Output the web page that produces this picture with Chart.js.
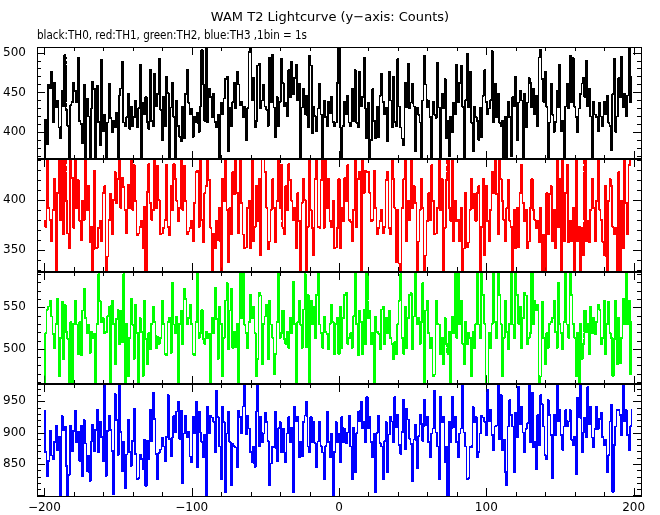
<!DOCTYPE html>
<html>
<head>
<meta charset="utf-8">
<title>WAM T2 Lightcurve</title>
<script src="https://cdn.jsdelivr.net/npm/chart.js@4"></script>
<style>
  body { margin: 0; background: #fff; }
  canvas { display: block; }
</style>
</head>
<body>
<canvas id="lc" width="660" height="515"></canvas>
<script>
// 1 s bins, t = -200 ... 199
const binStart = -200;

// counts per bin (approximate)
const th0 = [
  368, 416, 385, 460, 455, 476, 412, 462, 431, 440, 406, 392, 452, 432, 497, 428, 408, 359, 434, 438,
  462, 452, 437, 494, 414, 410, 386, 460, 368, 442, 420, 344, 430, 464, 454, 350, 458, 413, 383, 491,
  401, 422, 366, 412, 461, 418, 400, 414, 406, 424, 355, 446, 455, 488, 412, 408, 419, 448, 404, 432,
  408, 419, 440, 406, 430, 485, 353, 437, 422, 444, 413, 404, 478, 414, 407, 474, 432, 448, 492, 428,
  390, 444, 407, 470, 449, 348, 431, 462, 419, 358, 440, 408, 394, 389, 432, 392, 448, 479, 437, 422,
  430, 394, 420, 412, 424, 400, 432, 503, 460, 414, 506, 412, 454, 444, 419, 448, 413, 406, 422, 340,
  437, 422, 442, 467, 470, 376, 431, 408, 438, 462, 430, 476, 460, 434, 438, 419, 432, 390, 430, 501,
  539, 440, 468, 406, 414, 484, 486, 430, 440, 460, 432, 428, 408, 494, 437, 497, 431, 394, 444, 408,
  438, 492, 462, 432, 437, 420, 478, 444, 489, 448, 468, 485, 440, 461, 342, 431, 455, 422, 446, 406,
  496, 484, 398, 432, 420, 401, 430, 461, 422, 344, 440, 419, 407, 438, 424, 444, 413, 408, 412, 462,
  540, 406, 358, 408, 438, 422, 446, 412, 407, 455, 414, 478, 412, 406, 476, 432, 444, 494, 430, 392,
  437, 350, 390, 454, 414, 392, 432, 394, 446, 474, 438, 422, 431, 389, 476, 440, 406, 470, 413, 408,
  492, 432, 406, 392, 383, 462, 431, 486, 430, 437, 461, 432, 376, 431, 422, 412, 346, 440, 496, 460,
  431, 440, 419, 348, 438, 422, 418, 487, 431, 366, 448, 430, 467, 392, 414, 370, 420, 400, 437, 422,
  485, 437, 462, 484, 432, 341, 440, 499, 431, 476, 412, 376, 432, 419, 414, 390, 431, 394, 446, 478,
  438, 422, 430, 440, 502, 413, 461, 419, 448, 412, 407, 414, 366, 420, 338, 438, 419, 370, 444, 432,
  470, 390, 437, 452, 440, 368, 448, 406, 437, 468, 462, 431, 454, 422, 446, 407, 494, 504, 467, 438,
  476, 432, 368, 412, 461, 422, 400, 413, 452, 431, 485, 401, 414, 347, 432, 461, 430, 496, 438, 493,
  432, 419, 400, 430, 448, 461, 468, 444, 490, 432, 454, 420, 336, 438, 422, 419, 401, 437, 420, 407,
  438, 422, 446, 412, 408, 377, 448, 492, 400, 420, 468, 444, 495, 431, 448, 420, 446, 532, 437, 470
];
const th1 = [
  379, 373, 452, 392, 380, 358, 390, 421, 329, 407, 471, 380, 467, 365, 450, 399, 366, 351, 462, 422,
  372, 463, 392, 420, 379, 359, 399, 380, 443, 390, 414, 357, 373, 309, 429, 351, 352, 372, 379, 358,
  407, 414, 313, 343, 380, 406, 365, 400, 428, 397, 421, 452, 392, 422, 413, 390, 366, 415, 392, 443,
  390, 435, 399, 364, 366, 373, 379, 351, 393, 303, 408, 436, 397, 380, 390, 445, 392, 434, 400, 365,
  366, 372, 380, 435, 373, 364, 414, 390, 436, 421, 399, 379, 392, 443, 390, 434, 399, 365, 368, 372,
  379, 358, 397, 428, 429, 373, 445, 380, 357, 407, 414, 452, 420, 372, 306, 366, 351, 379, 359, 392,
  313, 421, 399, 470, 390, 337, 392, 365, 428, 406, 470, 407, 366, 452, 397, 365, 351, 352, 392, 399,
  351, 443, 358, 373, 414, 379, 421, 344, 452, 450, 428, 392, 350, 358, 390, 421, 392, 357, 399, 470,
  392, 435, 372, 365, 414, 390, 436, 420, 399, 380, 392, 351, 407, 379, 329, 397, 421, 400, 313, 373,
  470, 390, 372, 344, 421, 462, 373, 372, 420, 463, 372, 443, 392, 421, 379, 373, 399, 351, 352, 372,
  421, 351, 392, 379, 422, 399, 435, 380, 378, 358, 390, 445, 373, 421, 428, 302, 443, 407, 429, 428,
  428, 407, 379, 380, 429, 392, 365, 372, 379, 390, 366, 373, 420, 428, 372, 365, 452, 421, 392, 337,
  390, 336, 313, 392, 421, 443, 358, 399, 380, 445, 392, 414, 397, 322, 358, 390, 421, 392, 313, 344,
  379, 407, 380, 435, 399, 365, 366, 392, 470, 390, 421, 329, 372, 420, 452, 392, 379, 443, 358, 399,
  379, 380, 358, 392, 322, 351, 407, 352, 357, 390, 421, 392, 406, 379, 407, 414, 329, 373, 421, 344,
  414, 379, 358, 390, 428, 407, 470, 406, 365, 452, 421, 399, 380, 358, 392, 420, 379, 373, 313, 390,
  351, 392, 352, 407, 435, 397, 379, 390, 351, 358, 392, 421, 390, 380, 372, 379, 357, 392, 308, 365,
  329, 407, 365, 406, 414, 358, 390, 351, 443, 373, 421, 305, 445, 358, 407, 435, 357, 379, 358, 392,
  322, 443, 358, 373, 329, 372, 344, 452, 358, 379, 357, 390, 421, 392, 358, 399, 470, 390, 380, 358,
  344, 414, 329, 399, 421, 414, 373, 365, 372, 313, 428, 322, 399, 351, 470, 397, 365, 435, 456, 469
];
const th2 = [
  436, 519, 547, 551, 558, 539, 518, 501, 530, 560, 467, 513, 557, 488, 553, 520, 512, 448, 532, 445,
  530, 558, 529, 494, 532, 492, 546, 572, 537, 519, 529, 495, 520, 513, 518, 453, 530, 590, 557, 532,
  537, 519, 520, 539, 551, 438, 558, 530, 481, 536, 547, 506, 546, 508, 590, 448, 530, 467, 513, 560,
  529, 488, 553, 519, 442, 537, 520, 467, 558, 512, 481, 519, 499, 530, 551, 532, 501, 515, 506, 513,
  558, 530, 494, 492, 532, 537, 495, 579, 529, 519, 539, 438, 530, 546, 505, 572, 560, 529, 537, 553,
  530, 494, 492, 532, 610, 513, 519, 547, 512, 506, 520, 513, 518, 450, 537, 519, 574, 536, 488, 551,
  530, 467, 513, 558, 579, 499, 546, 572, 501, 520, 502, 530, 457, 590, 537, 620, 529, 519, 501, 532,
  565, 537, 551, 519, 467, 488, 567, 564, 481, 530, 539, 553, 487, 558, 529, 513, 469, 494, 532, 610,
  513, 519, 546, 512, 506, 520, 501, 537, 519, 581, 530, 435, 532, 558, 529, 501, 547, 590, 502, 565,
  457, 558, 530, 551, 513, 565, 610, 529, 519, 501, 539, 520, 518, 499, 530, 553, 532, 494, 530, 537,
  494, 551, 501, 537, 565, 567, 506, 513, 519, 501, 539, 618, 530, 492, 546, 532, 494, 547, 506, 610,
  537, 546, 506, 519, 455, 539, 520, 518, 499, 547, 551, 505, 537, 519, 546, 513, 506, 488, 508, 494,
  530, 558, 590, 513, 494, 551, 501, 537, 565, 567, 499, 539, 610, 530, 537, 506, 532, 579, 448, 546,
  558, 519, 501, 513, 467, 469, 558, 530, 529, 494, 513, 481, 537, 506, 494, 520, 441, 539, 519, 590,
  513, 616, 530, 558, 506, 481, 532, 505, 519, 513, 467, 520, 501, 530, 599, 529, 513, 600, 565, 530,
  448, 457, 519, 501, 530, 599, 532, 513, 597, 565, 530, 467, 513, 558, 520, 499, 530, 599, 529, 513,
  599, 565, 530, 551, 501, 537, 567, 564, 506, 513, 519, 600, 530, 558, 546, 553, 448, 467, 557, 513,
  481, 519, 501, 530, 532, 537, 558, 520, 501, 579, 530, 519, 499, 532, 599, 529, 513, 597, 565, 530,
  513, 467, 519, 443, 530, 488, 506, 546, 520, 530, 494, 551, 519, 537, 518, 532, 553, 547, 505, 513,
  558, 494, 530, 557, 519, 513, 467, 512, 558, 481, 537, 483, 513, 560, 530, 599, 529, 558, 469, 532
];
const th3 = [
  935, 869, 831, 855, 903, 864, 857, 885, 911, 872, 893, 791, 927, 904, 910, 847, 770, 833, 911, 871,
  903, 935, 885, 901, 855, 911, 830, 920, 883, 838, 864, 823, 886, 913, 871, 904, 936, 869, 918, 893,
  855, 998, 831, 903, 927, 904, 871, 802, 962, 920, 864, 976, 901, 838, 885, 812, 865, 921, 869, 847,
  887, 938, 866, 826, 827, 865, 858, 841, 889, 815, 887, 857, 936, 886, 964, 922, 866, 826, 868, 873,
  892, 878, 854, 893, 960, 890, 862, 892, 927, 900, 934, 950, 890, 935, 819, 899, 927, 892, 901, 862,
  852, 925, 899, 949, 845, 934, 900, 885, 861, 897, 780, 941, 899, 927, 924, 917, 869, 967, 925, 878,
  826, 941, 917, 805, 899, 934, 885, 816, 883, 878, 876, 845, 935, 925, 899, 942, 1008, 897, 927, 907,
  869, 852, 878, 845, 934, 976, 878, 925, 885, 899, 932, 917, 886, 816, 851, 878, 876, 934, 854, 907,
  917, 869, 907, 868, 852, 899, 925, 885, 908, 805, 941, 918, 925, 861, 885, 862, 917, 927, 949, 878,
  869, 925, 885, 917, 883, 845, 886, 918, 878, 868, 826, 878, 934, 885, 861, 899, 784, 869, 917, 885,
  899, 852, 925, 885, 907, 883, 900, 927, 878, 826, 908, 837, 899, 934, 918, 949, 907, 917, 885, 957,
  907, 925, 885, 861, 899, 805, 900, 927, 883, 878, 826, 886, 917, 837, 897, 925, 918, 885, 957, 908,
  928, 880, 866, 901, 953, 873, 938, 921, 890, 882, 822, 889, 913, 843, 894, 929, 914, 887, 953, 911,
  925, 885, 861, 899, 907, 967, 900, 878, 826, 957, 917, 925, 852, 878, 788, 918, 885, 957, 908, 925,
  885, 861, 899, 907, 1004, 900, 878, 826, 827, 878, 876, 941, 917, 925, 861, 869, 899, 927, 924, 917,
  896, 969, 918, 936, 896, 872, 910, 911, 987, 889, 960, 872, 889, 837, 816, 910, 952, 928, 910, 837,
  932, 892, 973, 914, 941, 900, 868, 906, 915, 983, 885, 964, 876, 885, 841, 928, 880, 960, 945, 910,
  864, 857, 952, 928, 896, 827, 928, 896, 1009, 918, 936, 896, 872, 910, 936, 910, 918, 936, 889, 880,
  893, 833, 956, 924, 983, 868, 900, 924, 892, 973, 914, 941, 892, 876, 906, 941, 906, 922, 932, 893,
  880, 889, 837, 864, 918, 945, 805, 880, 910, 936, 936, 928, 896, 1008, 918, 936, 896, 872, 910, 936
];

const xTicks = [-200, -100, 0, 100, 200];
const th0Ticks = [400, 450, 500];
const th1Ticks = [350, 400];
const th2Ticks = [500, 550];
const th3Ticks = [850, 900, 950];

const FONT = 'DejaVu Sans';

function toPoints(counts) {
  return counts.map((c, i) => ({ x: binStart + i, y: c }));
}

function panelAxis(min, max, ticks, weight) {
  return {
    type: 'linear',
    position: 'left',
    stack: 'lc',
    stackWeight: 1,
    weight: weight,
    min: min,
    max: max,
    afterBuildTicks: s => { s.ticks = ticks.map(v => ({ value: v })); },
    afterFit: s => { s.width = 37; },
    grid: { display: false, drawTicks: false },
    border: { display: false },
    ticks: { padding: 11, color: '#000', font: { family: FONT, size: 12 } }
  };
}

const panelIds = ['y0', 'y1', 'y2', 'y3'];

// inward tick marks + panel boxes, like the IDL frame
const framePlugin = {
  id: 'frame',
  beforeDatasetsDraw(chart) {
    const ctx = chart.ctx;
    const xs = chart.scales.x;
    ctx.save();
    ctx.strokeStyle = '#000';
    ctx.lineWidth = 1;
    ctx.beginPath();
    panelIds.forEach(id => {
      const ys = chart.scales[id];
      for (let v = -200; v <= 200; v += 20) {
        const len = v % 100 === 0 ? 8 : 4;
        const px = Math.round(xs.getPixelForValue(v)) + 0.5;
        ctx.moveTo(px, ys.top); ctx.lineTo(px, ys.top + len);
        ctx.moveTo(px, ys.bottom); ctx.lineTo(px, ys.bottom - len);
      }
      for (let v = Math.ceil(ys.min / 10) * 10; v <= ys.max; v += 10) {
        const len = v % 50 === 0 ? 8 : 4;
        const py = Math.round(ys.getPixelForValue(v)) + 0.5;
        ctx.moveTo(xs.left, py); ctx.lineTo(xs.left + len, py);
        ctx.moveTo(xs.right, py); ctx.lineTo(xs.right - len, py);
      }
    });
    ctx.stroke();
    ctx.restore();
  },
  beforeDatasetDraw(chart, args) {
    const ctx = chart.ctx;
    const m = args.meta;
    ctx.save();
    ctx.beginPath();
    ctx.rect(m.xScale.left, m.yScale.top, m.xScale.right - m.xScale.left, m.yScale.bottom - m.yScale.top);
    ctx.clip();
  },
  afterDatasetDraw(chart) {
    chart.ctx.restore();
  },
  afterDatasetsDraw(chart) {
    const ctx = chart.ctx;
    const a = chart.chartArea;
    // crisp, un-smoothed strokes like the old plotting device
    const x0 = Math.floor(a.left), y0 = Math.floor(a.top);
    const w = Math.ceil(a.right) - x0, h = Math.ceil(a.bottom) - y0;
    const img = ctx.getImageData(x0, y0, w, h);
    const px = img.data;
    for (let i = 3; i < px.length; i += 4) {
      px[i] = px[i] > 80 ? 255 : 0;
    }
    ctx.putImageData(img, x0, y0);

    ctx.save();
    ctx.strokeStyle = '#000';
    ctx.lineWidth = 1;
    ctx.strokeRect(a.left + 0.5, a.top + 0.5, a.right - a.left, a.bottom - a.top);
    ctx.lineWidth = 2;
    ctx.beginPath();
    panelIds.slice(1).forEach(id => {
      const t = Math.round(chart.scales[id].top);
      ctx.moveTo(a.left, t); ctx.lineTo(a.right, t);
    });
    ctx.stroke();
    ctx.restore();
  },
  afterDraw(chart) {
    const ctx = chart.ctx;
    ctx.save();
    ctx.fillStyle = '#000';
    ctx.font = '13px "' + FONT + '"';
    ctx.textBaseline = 'alphabetic';
    ctx.textAlign = 'center';
    ctx.fillText('WAM T2 Lightcurve (y\u2212axis: Counts)', 330, 21);
    ctx.textAlign = 'left';
    ctx.fillText('black:TH0, red:TH1, green:TH2, blue:TH3 ,1bin = 1s', 37, 39, 270);
    ctx.restore();
  }
};

function series(label, counts, color, axis) {
  return {
    label: label,
    data: toPoints(counts),
    yAxisID: axis,
    borderColor: color,
    borderWidth: 1.2,
    pointRadius: 0,
    stepped: 'middle',
    fill: false
  };
}

new Chart(document.getElementById('lc'), {
  type: 'line',
  data: {
    datasets: [
      series('TH0', th0, '#000000', 'y0'),
      series('TH1', th1, '#ff0000', 'y1'),
      series('TH2', th2, '#00ff00', 'y2'),
      series('TH3', th3, '#0000ff', 'y3')
    ]
  },
  options: {
    responsive: false,
    animation: false,
    layout: { padding: { top: 47, right: 19, left: 0, bottom: 0 } },
    plugins: { legend: { display: false }, tooltip: { enabled: false } },
    scales: {
      x: {
        type: 'linear',
        position: 'bottom',
        min: -205,
        max: 205,
        afterBuildTicks: s => { s.ticks = xTicks.map(v => ({ value: v })); },
        afterFit: s => { s.height = 19; },
        grid: { display: false, drawTicks: false },
        border: { display: false },
        ticks: {
          padding: 5,
          maxRotation: 0,
          color: '#000',
          font: { family: FONT, size: 12 },
          callback: v => String(v).replace('-', '\u2212')
        }
      },
      y0: panelAxis(366, 507, th0Ticks, 4),
      y1: panelAxis(328, 441, th1Ticks, 3),
      y2: panelAxis(458, 593, th2Ticks, 2),
      y3: panelAxis(799, 978, th3Ticks, 1)
    }
  },
  plugins: [framePlugin]
});
</script>
</body>
</html>
